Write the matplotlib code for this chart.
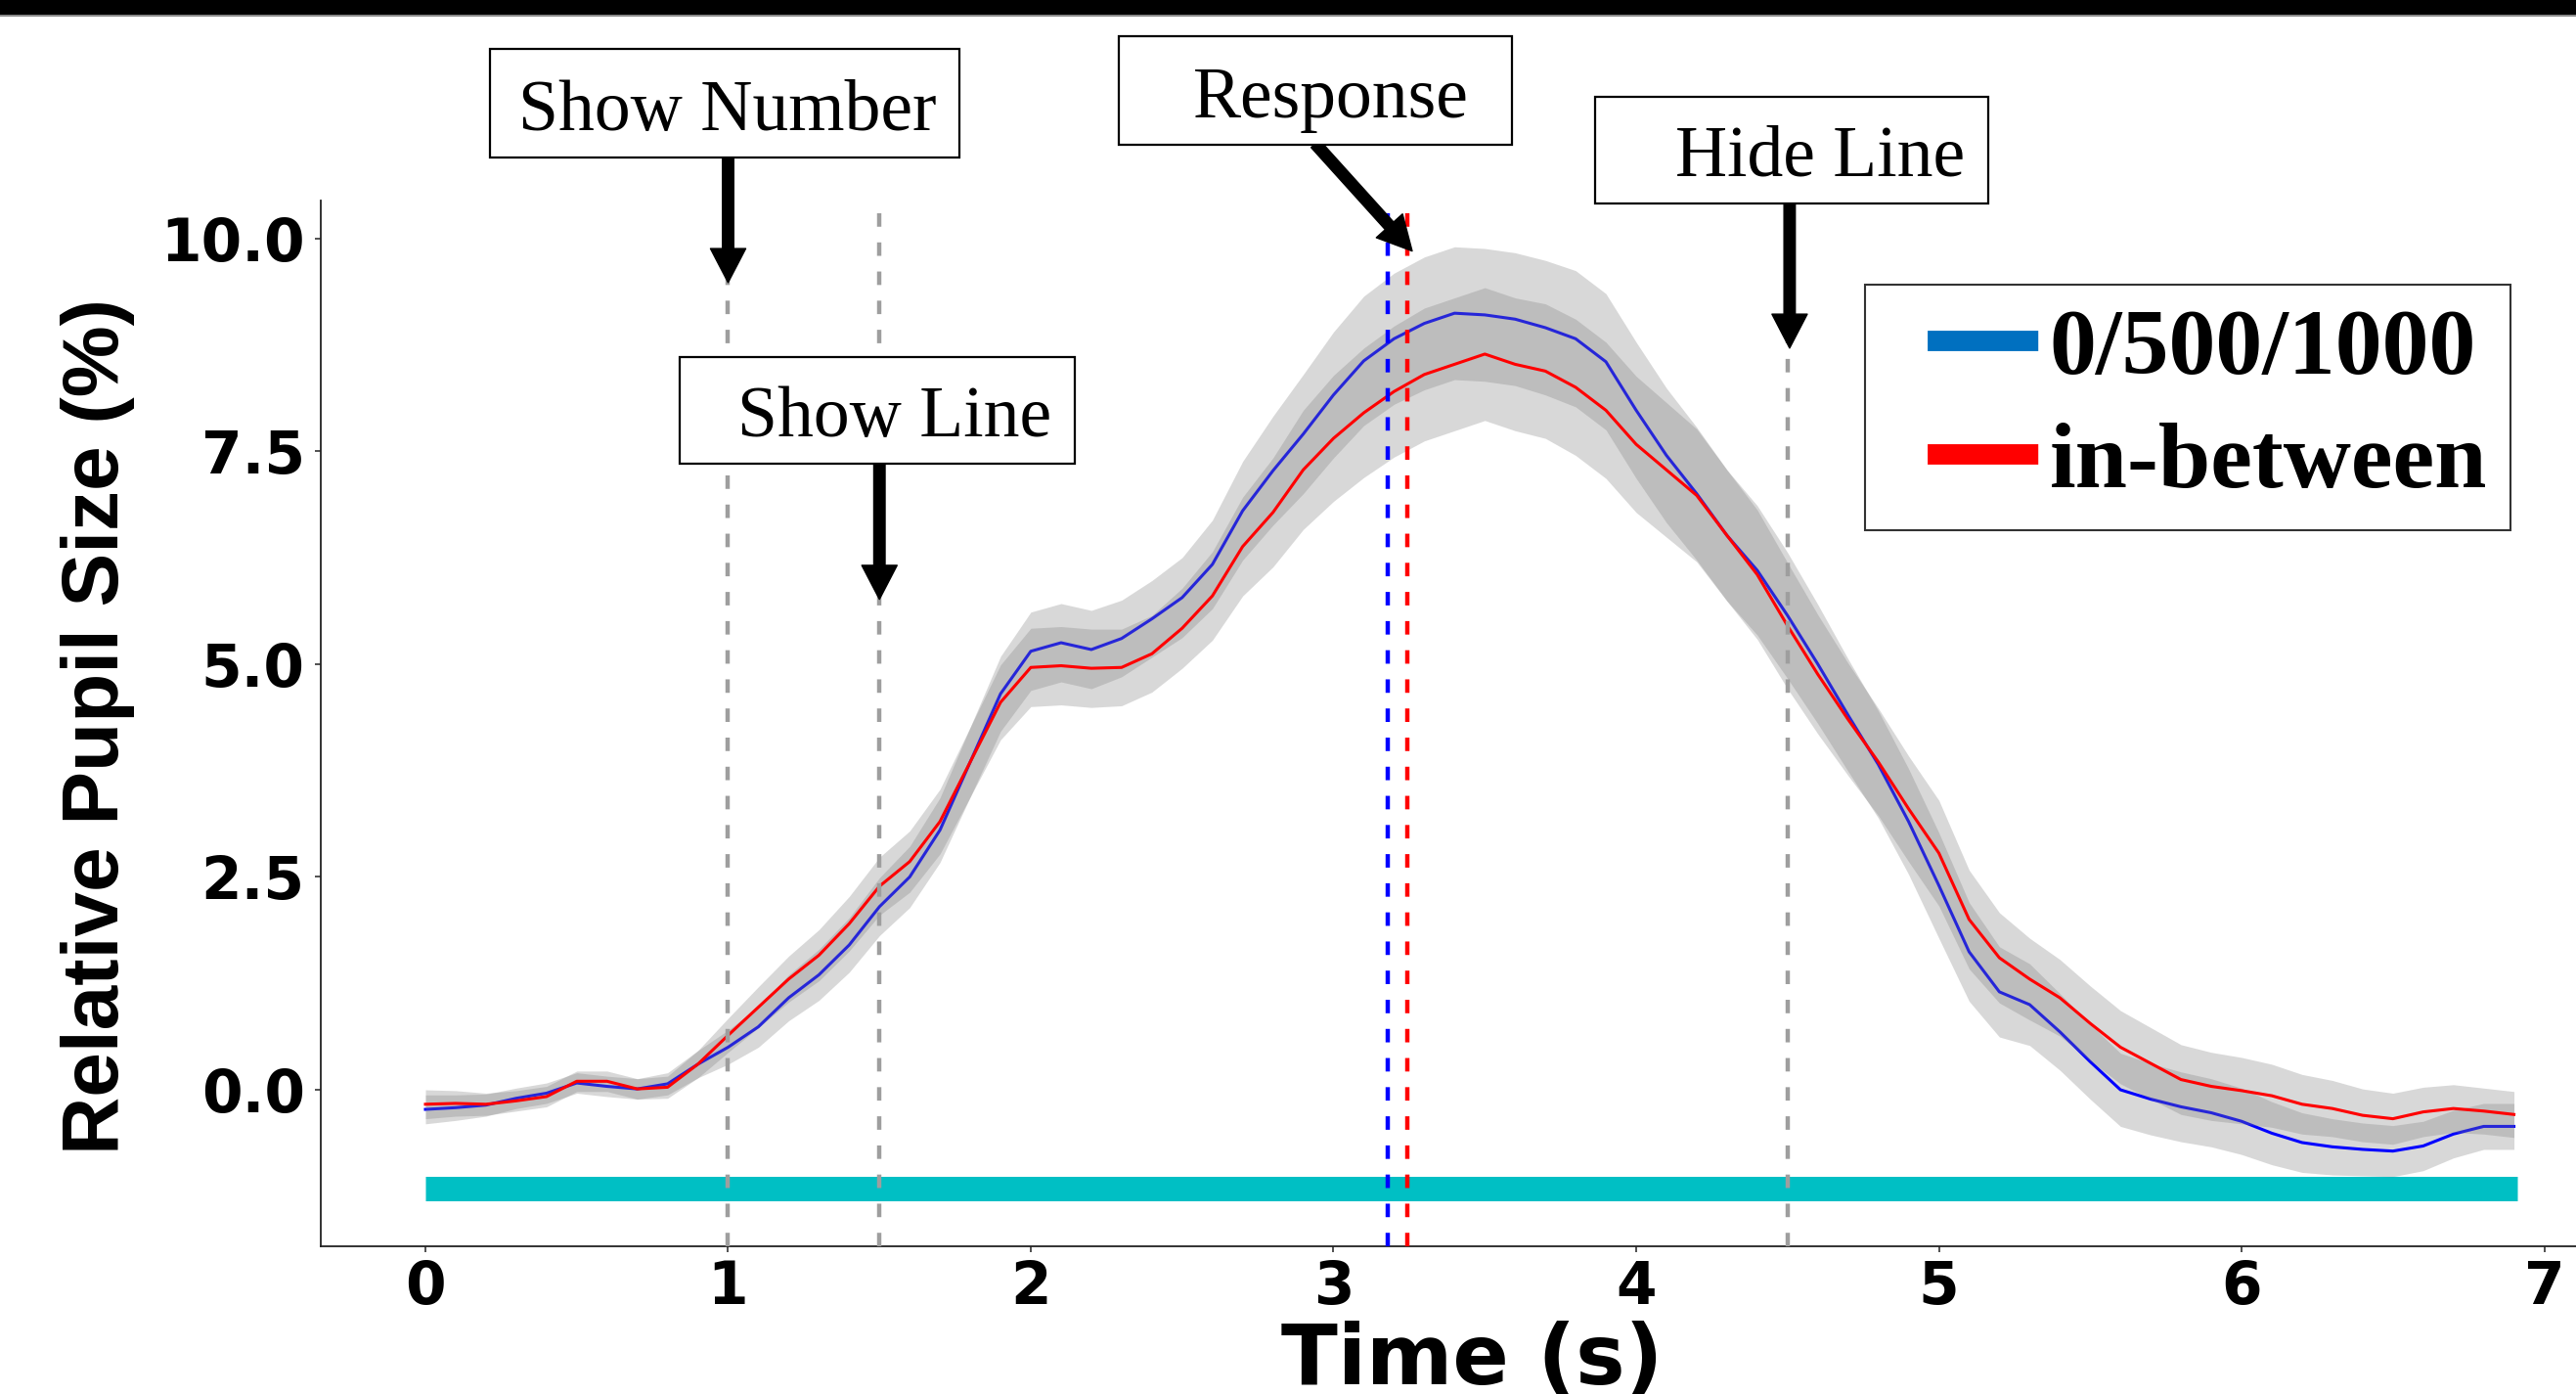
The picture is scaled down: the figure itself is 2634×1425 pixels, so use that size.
import matplotlib
matplotlib.use("Agg")
import matplotlib.pyplot as plt
import matplotlib.patches as patches
from matplotlib import font_manager
from matplotlib.lines import Line2D
import numpy as np

# time axis (s)
time = [0.0, 0.1, 0.2, 0.3, 0.4, 0.5, 0.6, 0.7, 0.8, 0.9,
        1.0, 1.1, 1.2, 1.3, 1.4, 1.5, 1.6, 1.7, 1.8, 1.9,
        2.0, 2.1, 2.2, 2.3, 2.4, 2.5, 2.6, 2.7, 2.8, 2.9,
        3.0, 3.1, 3.2, 3.3, 3.4, 3.5, 3.6, 3.7, 3.8, 3.9,
        4.0, 4.1, 4.2, 4.3, 4.4, 4.5, 4.6, 4.7, 4.8, 4.9,
        5.0, 5.1, 5.2, 5.3, 5.4, 5.5, 5.6, 5.7, 5.8, 5.9,
        6.0, 6.1, 6.2, 6.3, 6.4, 6.5, 6.6, 6.7, 6.8, 6.9]

# 0/500/1000 condition
round_mean = [-0.23, -0.21, -0.18, -0.10, -0.04, 0.08, 0.04, 0.01, 0.07, 0.30,
              0.50, 0.74, 1.08, 1.35, 1.70, 2.15, 2.50, 3.05, 3.85, 4.65,
              5.15, 5.25, 5.17, 5.30, 5.53, 5.78, 6.17, 6.80, 7.27, 7.70,
              8.16, 8.56, 8.82, 9.00, 9.12, 9.10, 9.05, 8.95, 8.82, 8.55,
              7.98, 7.45, 7.00, 6.51, 6.10, 5.57, 5.00, 4.40, 3.82, 3.15,
              2.40, 1.62, 1.15, 1.00, 0.68, 0.33, 0.00, -0.11, -0.20, -0.27,
              -0.37, -0.51, -0.62, -0.67, -0.70, -0.72, -0.66, -0.52, -0.43, -0.43]

# in-between condition
between_mean = [-0.17, -0.16, -0.17, -0.13, -0.08, 0.10, 0.10, 0.01, 0.03, 0.30,
                0.64, 0.97, 1.30, 1.58, 1.95, 2.39, 2.68, 3.15, 3.85, 4.55,
                4.96, 4.98, 4.95, 4.96, 5.12, 5.42, 5.80, 6.38, 6.78, 7.28,
                7.65, 7.95, 8.20, 8.40, 8.52, 8.64, 8.52, 8.44, 8.25, 7.98,
                7.58, 7.28, 6.98, 6.51, 6.05, 5.45, 4.88, 4.35, 3.85, 3.30,
                2.78, 2.00, 1.55, 1.30, 1.08, 0.78, 0.50, 0.31, 0.12, 0.04,
                -0.01, -0.07, -0.17, -0.22, -0.30, -0.34, -0.26, -0.22, -0.25, -0.29]

# ribbon half width
ci = [0.17, 0.15, 0.13, 0.12, 0.12, 0.12, 0.12, 0.12, 0.13, 0.16,
      0.20, 0.24, 0.27, 0.30, 0.32, 0.34, 0.36, 0.38, 0.41, 0.44,
      0.46, 0.46, 0.46, 0.45, 0.45, 0.47, 0.52, 0.58, 0.64, 0.70,
      0.74, 0.76, 0.77, 0.78, 0.78, 0.78, 0.78, 0.79, 0.80, 0.80,
      0.80, 0.79, 0.78, 0.77, 0.76, 0.74, 0.70, 0.66, 0.63, 0.62,
      0.62, 0.58, 0.53, 0.48, 0.45, 0.44, 0.43, 0.42, 0.41, 0.40,
      0.39, 0.37, 0.35, 0.33, 0.31, 0.30, 0.29, 0.28, 0.27, 0.27]

event_times = [1.0, 1.5, 4.5]
response_times = [3.18, 3.245]
sig_start, sig_end, sig_level = 0.0, 6.91, -1.155

x_ticks = [0, 1, 2, 3, 4, 5, 6, 7]
y_ticks = [0.0, 2.5, 5.0, 7.5, 10.0]

W, H = 2634, 1425


def px(x, y):
    # full-size pixel (from top-left) -> figure fraction
    return x / W, 1 - y / H


names = {f.name for f in font_manager.fontManager.ttflist}
ylab_font = 'Liberation Sans Narrow' if 'Liberation Sans Narrow' in names else 'Liberation Sans'
ylab_size = 72 if ylab_font == 'Liberation Sans Narrow' else 59

fig = plt.figure(figsize=(W / 100, H / 100), dpi=100)
ax = fig.add_axes([327.6 / W, 1 - 1274 / H, (W - 327.6) / W, (1274 - 205) / H])

t = np.array(time)
rm = np.array(round_mean)
bm = np.array(between_mean)
se = np.array(ci)

# significance bar
ax.plot([sig_start, sig_end], [sig_level, sig_level], color='#00BFC4',
        linewidth=18, solid_capstyle='butt', zorder=1)

ax.fill_between(t, rm - se, rm + se, color='0.5', alpha=0.3, linewidth=0, zorder=2)
ax.plot(t, rm, color='blue', linewidth=2.2, zorder=3)
ax.fill_between(t, bm - se, bm + se, color='0.5', alpha=0.3, linewidth=0, zorder=4)
ax.plot(t, bm, color='red', linewidth=2.2, zorder=5)

dash = (0, (3.1, 3.6))
for et in event_times:
    ax.axvline(et, color='#9e9e9e', linewidth=3.2, linestyle=dash, zorder=6)
ax.axvline(response_times[0], color='blue', linewidth=3.2, linestyle=dash, zorder=6)
ax.axvline(response_times[1], color='red', linewidth=3.2, linestyle=dash, zorder=6)

ax.set_xlim(-0.347, 7.105)
ax.set_ylim(-1.838, 10.443)
ax.set_xticks(x_ticks)
ax.set_xticklabels([str(v) for v in x_ticks])
ax.set_yticks(y_ticks)
ax.set_yticklabels(['%.1f' % v for v in y_ticks])
for s in ['top', 'right']:
    ax.spines[s].set_visible(False)
for s in ['left', 'bottom']:
    ax.spines[s].set_linewidth(1.3)
    ax.spines[s].set_color('#222222')
ax.tick_params(length=4.5, width=1.2, color='#333333', pad=7, labelsize=43)
ax.tick_params(axis='x', pad=5)
for lab in ax.get_xticklabels() + ax.get_yticklabels():
    lab.set_fontweight('bold')
    lab.set_family('DejaVu Sans')

ax.set_xlabel('Time (s)', fontsize=61, fontweight='bold', family='DejaVu Sans')
ax.xaxis.set_label_coords(0.5105, -0.071)
ax.set_ylabel('Relative Pupil Size (%)', fontsize=ylab_size, fontweight='bold',
              family=ylab_font)
ax.yaxis.set_label_coords(-0.082, 0.497)

# legend keys: dash offset leaves a blank gap before the coloured bar
key_lw = 15
key_on, key_gap, key_off = 5.43, 1.9, 10.0
key_style = (key_on + key_off - key_gap, (key_on, key_off))
handles = [Line2D([], [], color='#0070C0', linewidth=key_lw, linestyle=key_style,
                  dash_capstyle='butt'),
           Line2D([], [], color='#FF0000', linewidth=key_lw, linestyle=key_style,
                  dash_capstyle='butt')]
leg = ax.legend(handles, ['0/500/1000', 'in-between'],
                loc='upper left', bbox_to_anchor=px(1907, 291),
                bbox_transform=fig.transFigure, borderaxespad=0,
                prop={'family': 'Liberation Serif', 'weight': 'bold', 'size': 69},
                frameon=True, fancybox=False, edgecolor='black',
                handlelength=1.6, handletextpad=0.12, borderpad=0.25,
                labelspacing=0.3)
leg.get_frame().set_linewidth(1.5)
leg.set_zorder(10)

# event boxes: (label, box left, top, right, bottom, text x, baseline)
boxes = [
    ('Show Number', 501, 50, 981, 161, 530, 133),
    ('Show Line', 695, 365, 1099, 474, 754, 446),
    ('Response', 1144, 37, 1546, 148, 1220, 120),
    ('Hide Line', 1631, 99, 2033, 208, 1713, 180),
]
for label, x0, y0, x1, y1, tx, tb in boxes:
    fx0, fy1 = px(x0, y1)
    rect = patches.Rectangle((fx0, fy1), (x1 - x0) / W, (y1 - y0) / H,
                             transform=fig.transFigure, facecolor='white',
                             edgecolor='black', linewidth=1.6, zorder=10)
    fig.patches.append(rect)
    fx, fy = px(tx, tb)
    fig.text(fx, fy, label, fontsize=53, family='Liberation Serif',
             ha='left', va='baseline', zorder=11)

# arrows: (tail, tip) in data units
arrows = [
    ((1.0, 10.95), (1.0, 9.48)),
    ((1.5, 7.35), (1.5, 5.76)),
    ((2.94, 11.11), (3.26, 9.85)),
    ((4.507, 10.41), (4.507, 8.71)),
]
for tail, tip in arrows:
    ax.annotate('', xy=tip, xytext=tail, annotation_clip=False,
                arrowprops=dict(arrowstyle='simple,head_length=25,head_width=26,tail_width=8.3',
                                color='black', shrinkA=0, shrinkB=0,
                                mutation_scale=1), zorder=12)

# dark band at top of image
fig.patches.append(patches.Rectangle((0, 1 - 15 / H), 1, 15 / H,
                                     transform=fig.transFigure,
                                     facecolor='black', edgecolor='none'))
fig.patches.append(patches.Rectangle((0, 1 - 17 / H), 1, 2 / H,
                                     transform=fig.transFigure,
                                     facecolor='#8a8a8a', edgecolor='none'))

fig.savefig('out.png', dpi=100)
